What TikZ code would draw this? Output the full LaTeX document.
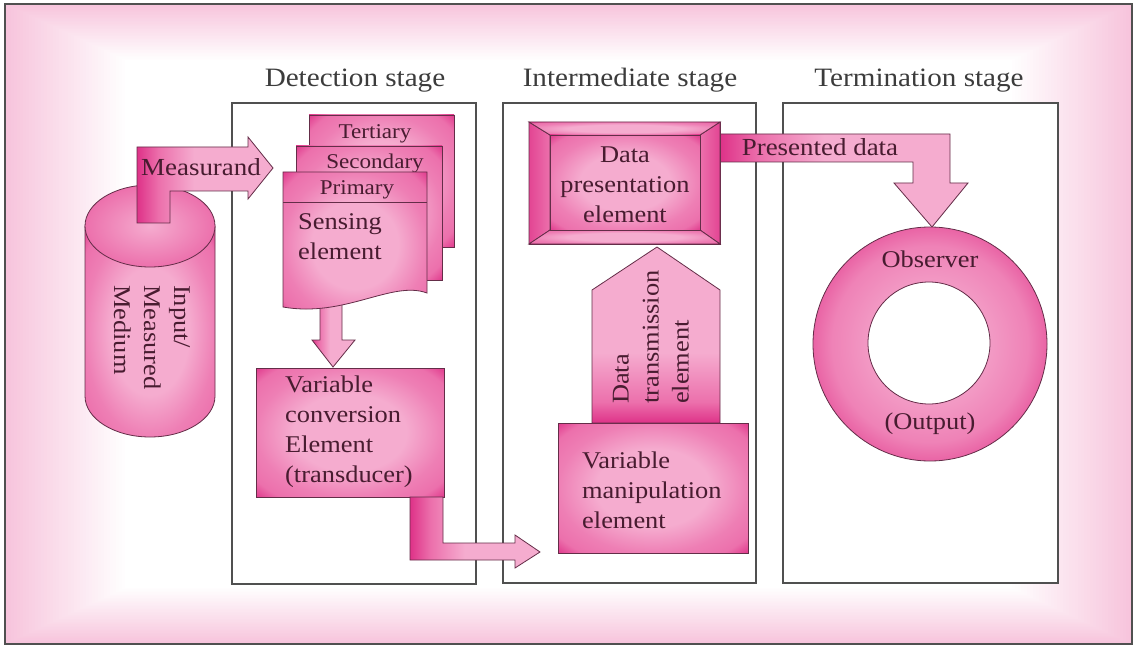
\documentclass[tikz,border=0pt]{standalone}
\usepackage{fontspec}
\setmainfont{Liberation Serif}[FakeStretch=1.1]
\usetikzlibrary{calc}

\definecolor{pkdark}{RGB}{222,50,136}
\definecolor{pkmid}{RGB}{236,112,172}
\definecolor{pklight}{RGB}{245,172,207}
\definecolor{pkbg}{RGB}{247,196,220}
\definecolor{inkc}{RGB}{72,28,48}
\definecolor{edgec}{RGB}{100,45,72}
\definecolor{framec}{RGB}{80,80,80}
\definecolor{titlec}{RGB}{60,60,60}

% TikZ maps the central 50bp of a shading onto the path's bounding box
% soft glow: light centre, darker pink rim and corners
\pgfdeclareradialshading{pkglow}{\pgfpoint{0bp}{0bp}}{%
  color(0bp)=(pklight); color(15bp)=(pklight); color(25bp)=(pkmid!75!pklight);
  color(31bp)=(pkmid); color(36bp)=(pkdark); color(50bp)=(pkdark)}
% ring of the observer
\pgfdeclareradialshading{pkring}{\pgfpoint{0bp}{0bp}}{%
  color(0bp)=(pklight); color(13bp)=(pklight!70!pkmid); color(21bp)=(pkmid!70!pklight);
  color(25bp)=(pkmid!80!pkdark); color(50bp)=(pkmid!80!pkdark)}
% block arrows: dark on the left, light on the right
\pgfdeclarehorizontalshading{pkhor}{100bp}{%
  color(0bp)=(pkdark); color(25bp)=(pkdark); color(33bp)=(pkmid);
  color(46bp)=(pklight); color(100bp)=(pklight)}
% upward block arrow: dark at the bottom
\pgfdeclareverticalshading{pkvert}{100bp}{%
  color(0bp)=(pkdark); color(25bp)=(pkdark); color(31bp)=(pkmid);
  color(45bp)=(pklight); color(100bp)=(pklight)}

\tikzset{
  stagebox/.style={draw=framec, fill=white, line width=1.2pt},
  stagetitle/.style={text=titlec, font=\fontsize{26.5}{30}\selectfont, anchor=base},
  pkshape/.style={draw=edgec, line width=0.8pt},
  glow/.style={pkshape, shading=pkglow},
  bodytext/.style={text=inkc, font=\fontsize{24}{30}\selectfont, inner sep=0pt, align=left},
  labeltext/.style={text=inkc, font=\fontsize{21}{25}\selectfont, inner sep=0pt, anchor=base},
  bigtext/.style={labeltext, font=\fontsize{24.5}{28}\selectfont},
}

\begin{document}
\begin{tikzpicture}[x=1pt,y=-1pt]
\useasboundingbox (0,0) rectangle (1138,647);

% pink background fading to white towards the middle
\fill[pkbg] (5,4) rectangle (1132,644);
\foreach \i in {0,...,40}{
  \pgfmathsetmacro{\pc}{100-2.5*\i}
  \fill[pkbg!\pc!white] (5+3*\i,4+1.4*\i) rectangle (1132-3*\i,644-1.4*\i);
}
\draw[framec, line width=1.6pt] (5,4) rectangle (1132,644);

% stage frames and their titles
\draw[stagebox] (232,103) rectangle (476,584);
\draw[stagebox] (503,103) rectangle (756,583);
\draw[stagebox] (783,103) rectangle (1058,583);
\node[stagetitle] (tdet) at (355,87) {Detection stage};
\node[stagetitle] (tint) at (630,87) {Intermediate stage};
\node[stagetitle] (tter) at (919,87) {Termination stage};

% input / measured medium cylinder
\path[glow] (85,226) -- (85,396)
  arc[start angle=180, end angle=0, x radius=65, y radius=41]
  -- (215,226) -- cycle;
\draw[pkshape, inner color=pklight, outer color=pkmid] (150,226) ellipse[x radius=65, y radius=41];
\node[bodytext, rotate=-90, anchor=west] (medium) at (152,285) {Input/\\Measured\\Medium};

% measurand block arrow
\path[pkshape, shading=pkhor] (137,223) -- (137,147) -- (248,147) -- (248,137)
  -- (273,168) -- (248,199) -- (248,191) -- (170,191) -- (170,223) -- cycle;
\node[bigtext] (msr) at (201,176) {Measurand};

% sensing element pages
\path[glow] (309,115) rectangle (454,247);
\path[glow] (296,146) rectangle (442,280);
\node[labeltext] (ter) at (375,139) {Tertiary};
\node[labeltext] (sec) at (375,169) {Secondary};

% arrow into the transducer (drawn before the page that covers its top)
\path[pkshape, shading=pkhor] (320,288) -- (320,340) -- (312,340) -- (333,367)
  -- (355,340) -- (342,340) -- (342,288) -- cycle;

\path[glow] (283,172) -- (427,172) -- (427,293)
  .. controls (392,280) and (345,318) .. (283,307) -- cycle;
\draw[pkshape] (283,202) -- (427,202);
\node[labeltext] (pri) at (357,195) {Primary};
\node[bodytext, anchor=west] (sense) at (298,237) {Sensing\\element};

% variable conversion element
\path[glow] (256,368) rectangle (444,497);
\node[bodytext, anchor=west] (conv) at (285,432) {Variable\\conversion\\Element\\(transducer)};

% bent arrow towards the manipulation element
\path[pkshape, shading=pkhor] (410,497) -- (410,560) -- (515,560) -- (515,568)
  -- (540,552) -- (515,535) -- (515,543) -- (443,543) -- (443,497) -- cycle;

% variable manipulation element
\path[glow] (558,423) rectangle (748,553);
\node[bodytext, anchor=west] (manip) at (582,490) {Variable\\manipulation\\element};

% data transmission element (upward block arrow)
\path[pkshape, shading=pkvert] (592,423) -- (592,290) -- (657,247) -- (720,290)
  -- (720,423) -- cycle;
\node[bodytext, rotate=90, anchor=west] (trans) at (651,404) {Data\\transmission\\element};

% presented data block arrow
\path[pkshape, shading=pkhor] (720,134) -- (950,134) -- (950,183) -- (968,183)
  -- (932,227) -- (894,183) -- (913,183) -- (913,162) -- (720,162) -- cycle;
\node[bigtext] (pdata) at (820,156) {Presented data};

% data presentation element with bevelled frame
\path[pkshape, fill=pkmid] (529,122) rectangle (720,244);
\path[pkshape, left color=pkdark!70!pkmid, right color=pkmid] (529,122) -- (550,135) -- (550,230) -- (529,244) -- cycle;
\path[pkshape, left color=pkmid, right color=pkdark!70!pkmid] (720,122) -- (700,135) -- (700,230) -- (720,244) -- cycle;
\path[pkshape, shading=pkglow] (529,122) -- (720,122) -- (700,135) -- (550,135) -- cycle;
\path[pkshape, shading=pkglow] (529,244) -- (720,244) -- (700,230) -- (550,230) -- cycle;
\path[glow] (550,135) rectangle (700,230);
\node[bodytext, align=center] (pres) at (625,185) {Data\\presentation\\element};

% observer ring
\path[pkshape, shading=pkring, even odd rule] (930,344) circle[radius=117] (929,343) circle[radius=61];
\node[bigtext, font=\fontsize{24}{28}\selectfont] (obs) at (930,267) {Observer};
\node[bigtext, font=\fontsize{24}{28}\selectfont] (out) at (930,429) {(Output)};
\end{tikzpicture}
\end{document}
